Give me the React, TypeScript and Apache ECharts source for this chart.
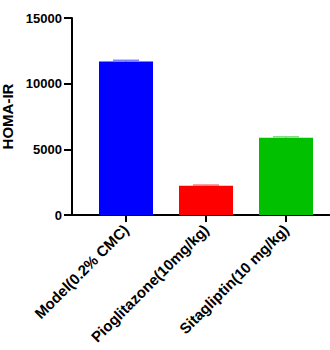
import React, { useEffect, useRef } from "react";
import * as echarts from "echarts";

const categories = ["Model(0.2% CMC)", "Pioglitazone(10mg/kg)", "Sitagliptin(10 mg/kg)"];
const means = [11680, 2230, 5890];
const errors = [100, 55, 70];
const colors = ["#0000ff", "#ff0000", "#00c000"];
const capColors = ["#8080ff", "#ff8080", "#80e080"];

export default function App() {
  const ref = useRef<HTMLDivElement>(null);
  useEffect(() => {
    const chart = echarts.init(ref.current!, null, { renderer: "svg" });
    const font = "Liberation Sans, Arial, sans-serif";
    chart.setOption({
      animation: false,
      grid: { left: 72, right: 0, top: 18, bottom: 135, outerBoundsMode: "none", containLabel: false },
      xAxis: {
        type: "value",
        min: -0.675,
        max: 2.55,
        splitLine: { show: false },
        axisLine: { show: true, onZero: false, lineStyle: { color: "#000", width: 2 } },
        axisTick: { show: true, length: 7, lineStyle: { color: "#000", width: 2 }, customValues: [0, 1, 2] },
        axisLabel: {
          customValues: [0, 1, 2],
          formatter: (v: number) => categories[Math.round(v)] ?? "",
          rotate: 45,
          fontFamily: font,
          fontWeight: "bold",
          fontSize: 15,
          color: "#000",
          margin: 12,
        },
      },
      yAxis: {
        type: "value",
        min: 0,
        max: 15000,
        interval: 5000,
        name: "HOMA-IR",
        nameLocation: "middle",
        nameGap: 55,
        nameTextStyle: { fontFamily: font, fontWeight: "bold", fontSize: 15, color: "#000" },
        splitLine: { show: false },
        axisLine: { show: true, onZero: false, lineStyle: { color: "#000", width: 2 } },
        axisTick: { show: true, length: 8, lineStyle: { color: "#000", width: 2 } },
        axisLabel: {
          formatter: (v: number) => String(v),
          fontFamily: font,
          fontWeight: "bold",
          fontSize: 13,
          color: "#000",
          margin: 10,
        },
      },
      series: [
        {
          type: "bar",
          barWidth: 54,
          data: means.map((m, i) => ({ value: [i, m], itemStyle: { color: colors[i] } })),
        },
        {
          type: "custom",
          data: means.map((m, i) => [i, m, m + errors[i]]),
          renderItem: (params: any, api: any) => {
            const i = api.value(0);
            const lo = api.coord([i, api.value(1)]);
            const hi = api.coord([i, api.value(2)]);
            const half = 13;
            const c = capColors[params.dataIndex];
            return {
              type: "group",
              children: [
                { type: "line", shape: { x1: lo[0], y1: lo[1], x2: hi[0], y2: hi[1] }, style: { stroke: c, lineWidth: 1.5 } },
                { type: "line", shape: { x1: hi[0] - half, y1: hi[1], x2: hi[0] + half, y2: hi[1] }, style: { stroke: c, lineWidth: 1.5 } },
              ],
            };
          },
        },
      ],
    });
    return () => chart.dispose();
  }, []);
  return <div ref={ref} style={{ width: 330, height: 350, position: "absolute", left: 0, top: 0 }} />;
}
